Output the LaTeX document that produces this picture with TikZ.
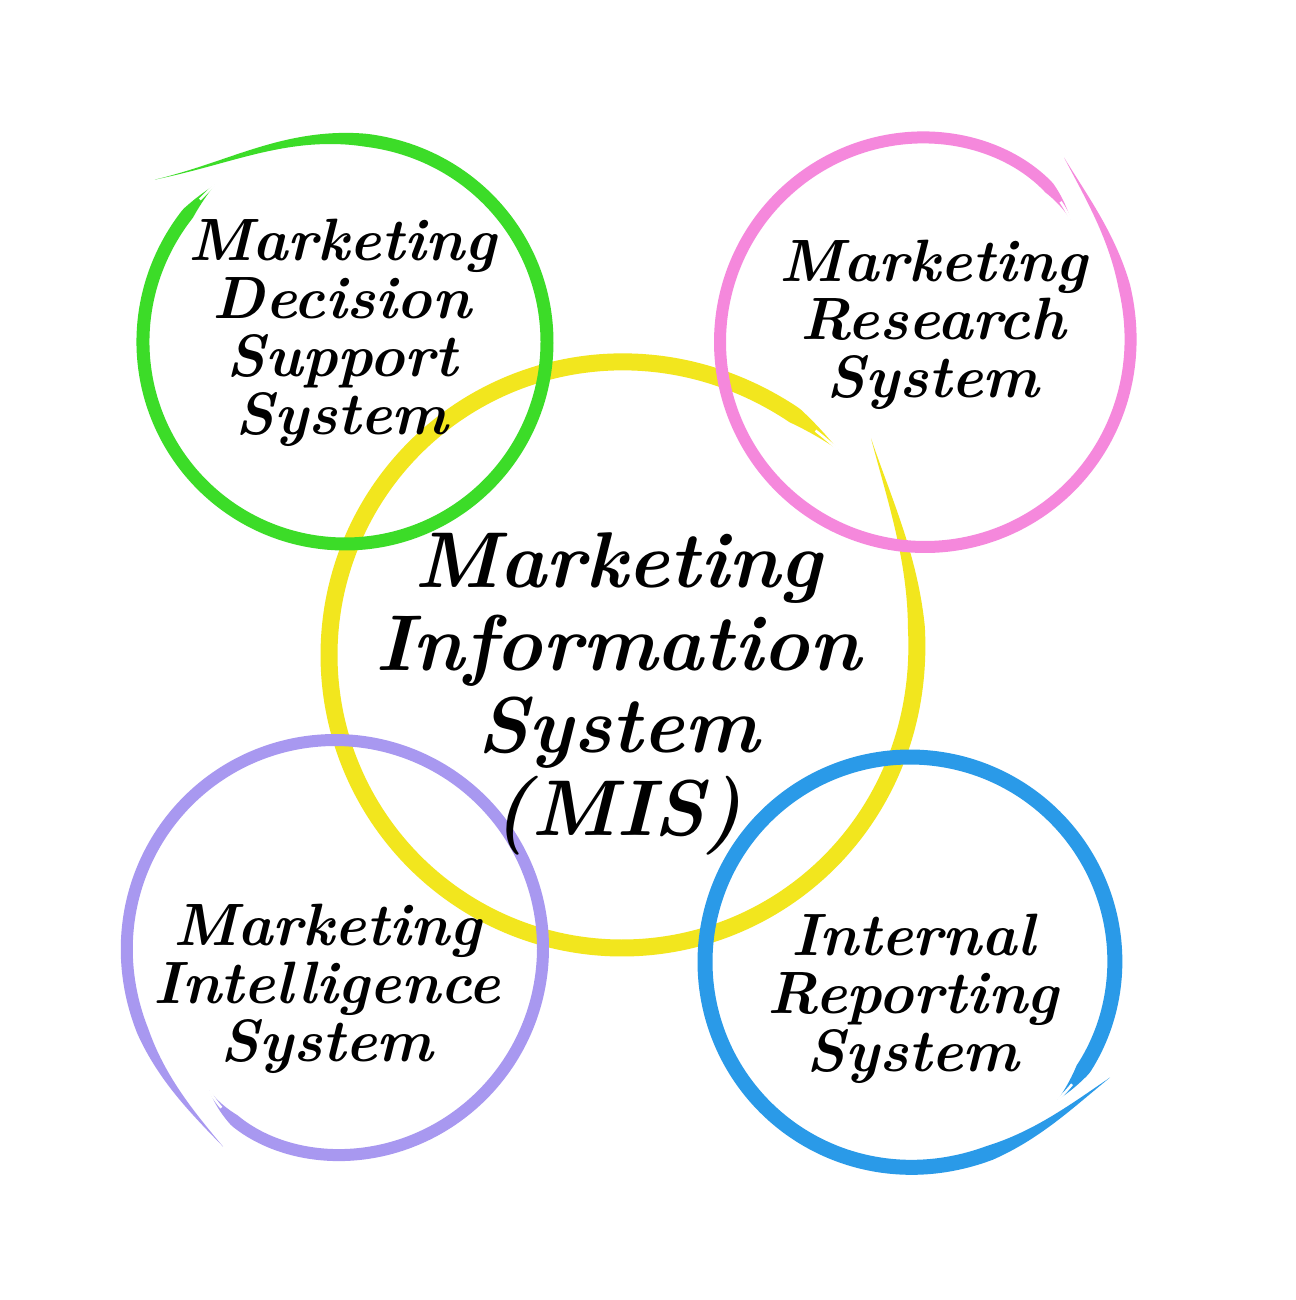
\documentclass[tikz,border=0pt]{standalone}
\usepackage{fontspec}
\definecolor{cgreen}{HTML}{3CDC28}
\definecolor{cpink}{HTML}{F588DC}
\definecolor{cyellow}{HTML}{F2E61E}
\definecolor{cpurple}{HTML}{A898F0}
\definecolor{cblue}{HTML}{2A9AE8}
\newcommand\brushts{0.1}
\newcommand\brushte{0.03}
% #1 colour, #2 cx, #3 cy, #4 start angle, #5 end angle, #6 radius, #7 start radius, #8 end radius, #9 width
\newcommand\brush[9]{%
 \begin{scope}[declare function={%
   bang(\s)=#4+\s*(#5-#4);
   brad(\s)=#6+(#7-#6)*(1-\s)^25+(#8-#6)*\s^25;
   bwid(\s)=#9*min(1,\s/\brushts)*min(1,(1-\s)/\brushte);}]
 \fill[#1] plot[variable=\s,domain=0:1,samples=400] ({#2+(brad(\s)+bwid(\s)/2)*cos(bang(\s))},{#3+(brad(\s)+bwid(\s)/2)*sin(bang(\s))})
   -- plot[variable=\s,domain=1:0,samples=400] ({#2+(brad(\s)-bwid(\s)/2)*cos(bang(\s))},{#3+(brad(\s)-bwid(\s)/2)*sin(bang(\s))}) -- cycle;
 % split brush tip
 \draw[white, line width=0.05cm] plot[variable=\s,domain=0.984:1,samples=12] ({#2+brad(\s)*cos(bang(\s))},{#3+brad(\s)*sin(bang(\s))});
 \end{scope}}
\tikzset{
  lbl/.style={font=\bfseries\itshape\fontsize{34}{33}\selectfont, align=center, text=black, inner sep=0pt},
  biglbl/.style={font=\bfseries\itshape\fontsize{45}{47}\selectfont, align=center, text=black, inner sep=0pt}
}
\begin{document}
\begin{tikzpicture}[x=0.02cm,y=-0.02cm]
\fill[white] (0,0) rectangle (1295,1300);
\useasboundingbox (0,0) rectangle (1295,1300);
% yellow (central)
\renewcommand\brushts{0.1}\renewcommand\brushte{0.03}
\brush{cyellow}{622}{655}{-41}{316.5}{293}{330}{298}{17}
% green
\renewcommand\brushts{0.15}\renewcommand\brushte{0.03}
\brush{cgreen}{345}{342}{-139.5}{230.4}{202}{250}{204}{13}
% pink
\renewcommand\brushts{0.1}\renewcommand\brushte{0.03}
\brush{cpink}{925}{342}{-53}{320}{205}{231}{190}{12}
% purple
\brush{cpurple}{335}{948}{119.4}{491.4}{208}{228}{190}{12}
% blue
\brush{cblue}{910}{962}{30}{403}{205}{231}{202}{15}
% texts
\node[lbl] (mdss) at (342,333) {Marketing\\Decision\\Support\\System};
\node[lbl] (mrs) at (933,325) {Marketing\\Research\\System};
\node[biglbl] (mis) at (618,694) {Marketing\\Information\\System\\(MIS)};
\node[lbl] (mints) at (327,989) {Marketing\\Intelligence\\System};
\node[lbl] (irs) at (913,999) {Internal\\Reporting\\System};
\end{tikzpicture}
\end{document}
